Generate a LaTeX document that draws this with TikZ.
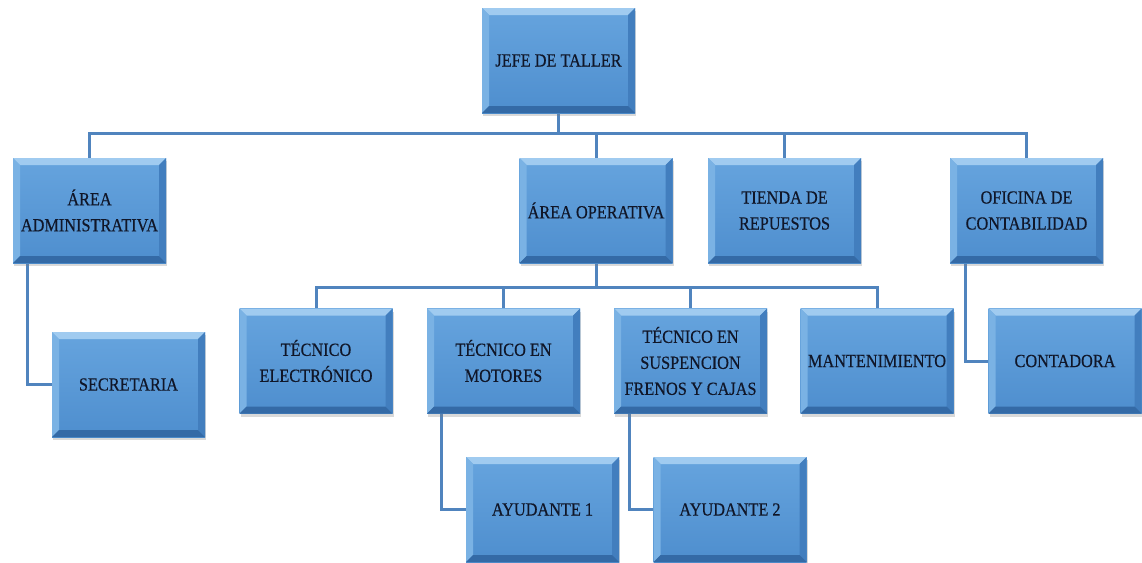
\documentclass[tikz,border=0pt]{standalone}
\usepackage{fontspec}
\setmainfont[FakeStretch=0.88,FakeBold=0.4]{Liberation Serif}
\usetikzlibrary{shadows,calc}
\pgfdeclarelayer{background}
\pgfsetlayers{background,main}
\definecolor{facetop}{RGB}{102,164,222}
\definecolor{facebot}{RGB}{78,142,206}
\definecolor{bevtop}{RGB}{160,203,240}
\definecolor{bevleft}{RGB}{122,178,228}
\definecolor{bevright}{RGB}{66,126,190}
\definecolor{bevbot}{RGB}{52,106,166}
\definecolor{conncol}{RGB}{80,132,190}
\definecolor{txtcol}{RGB}{16,22,40}
\tikzset{
  orgbox/.style={rectangle, minimum width=153pt, minimum height=105pt,
    inner sep=2pt, align=center, text=txtcol,
    font=\fontsize{18.5}{26}\selectfont,
    top color=facetop, bottom color=facebot,
    drop shadow={opacity=0.3, shadow xshift=1pt, shadow yshift=-3pt},
    path picture={
      \fill[bevtop] (path picture bounding box.north west) -- (path picture bounding box.north east)
        -- ([shift={(-7pt,-7pt)}]path picture bounding box.north east) -- ([shift={(7pt,-7pt)}]path picture bounding box.north west) -- cycle;
      \fill[bevleft] (path picture bounding box.north west) -- ([shift={(7pt,-7pt)}]path picture bounding box.north west)
        -- ([shift={(7pt,7pt)}]path picture bounding box.south west) -- (path picture bounding box.south west) -- cycle;
      \fill[bevright] (path picture bounding box.north east) -- ([shift={(-7pt,-7pt)}]path picture bounding box.north east)
        -- ([shift={(-7pt,7pt)}]path picture bounding box.south east) -- (path picture bounding box.south east) -- cycle;
      \fill[bevbot] (path picture bounding box.south west) -- ([shift={(7pt,7pt)}]path picture bounding box.south west)
        -- ([shift={(-7pt,7pt)}]path picture bounding box.south east) -- (path picture bounding box.south east) -- cycle;
    }},
  conn/.style={draw=conncol, line width=3pt}
}
\begin{document}
\begin{tikzpicture}[x=1pt,y=-1pt]
\useasboundingbox (0,0) rectangle (1142,562);
\node[orgbox] (jefe) at (558.5,60.5) {JEFE DE TALLER};
\node[orgbox] (admin) at (89.5,210.5) {ÁREA\\ADMINISTRATIVA};
\node[orgbox] (oper) at (596,210.5) {ÁREA OPERATIVA};
\node[orgbox] (tienda) at (784.5,210.5) {TIENDA DE\\REPUESTOS};
\node[orgbox] (ofic) at (1026.5,210.5) {OFICINA DE\\CONTABILIDAD};
\node[orgbox] (secre) at (128.5,384.5) {SECRETARIA};
\node[orgbox] (elec) at (316,361) {TÉCNICO\\ELECTRÓNICO};
\node[orgbox] (motor) at (503.5,361) {TÉCNICO EN\\MOTORES};
\node[orgbox] (susp) at (690.5,361) {TÉCNICO EN\\SUSPENCION\\FRENOS Y CAJAS};
\node[orgbox] (mant) at (877,361) {MANTENIMIENTO};
\node[orgbox] (conta) at (1065,361) {CONTADORA};
\node[orgbox] (ayu1) at (542.5,509.5) {AYUDANTE 1};
\node[orgbox] (ayu2) at (730,509.5) {AYUDANTE 2};
\coordinate (busA) at (0,133);
\coordinate (busB) at (0,287);
\begin{pgfonlayer}{background}
\draw[conn] (jefe.south) -- (jefe.south |- busA) -| (admin.north);
\draw[conn] (jefe.south |- busA) -| (oper.north);
\draw[conn] (jefe.south |- busA) -| (tienda.north);
\draw[conn] (jefe.south |- busA) -| (ofic.north);
\draw[conn] (oper.south) -- (oper.south |- busB) -| (elec.north);
\draw[conn] (oper.south |- busB) -| (motor.north);
\draw[conn] (oper.south |- busB) -| (susp.north);
\draw[conn] (oper.south |- busB) -| (mant.north);
\draw[conn] ([xshift=15pt]admin.south west) |- (secre.west);
\draw[conn] ([xshift=16pt]ofic.south west) |- (conta.west);
\draw[conn] ([xshift=15pt]motor.south west) |- (ayu1.west);
\draw[conn] ([xshift=16pt]susp.south west) |- (ayu2.west);
\end{pgfonlayer}
\end{tikzpicture}
\end{document}
